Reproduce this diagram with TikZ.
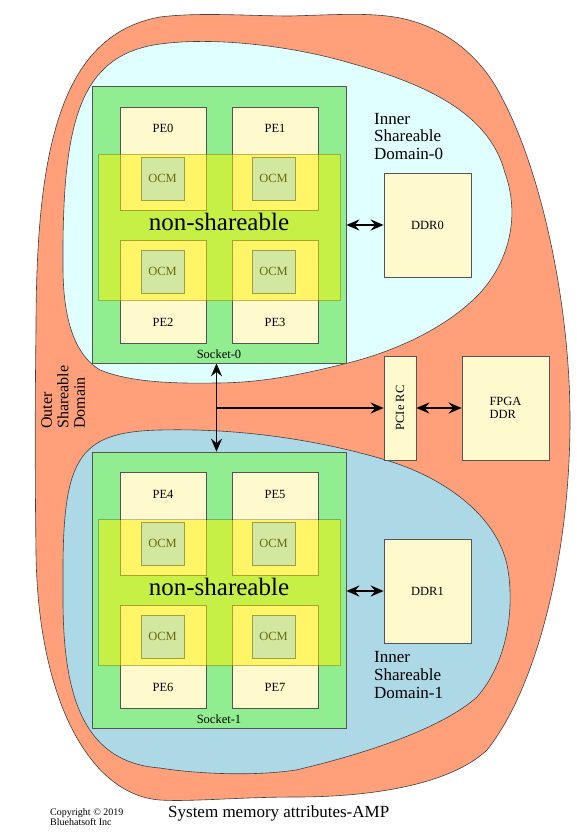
\documentclass[tikz,border=0pt]{standalone}
\usepackage{fontspec}
\setmainfont{Liberation Serif}
\usepackage{graphicx}
\usetikzlibrary{arrows.meta}
\definecolor{salmonc}{HTML}{FFA07A}
\definecolor{cyanc}{HTML}{E0FFFF}
\definecolor{bluec}{HTML}{ADD8E6}
\definecolor{sockc}{HTML}{90EE90}
\definecolor{pec}{HTML}{FFFACD}
\definecolor{ocmf}{HTML}{D2E8A0}
\definecolor{ocmd}{HTML}{A0A040}
\definecolor{ocmt}{HTML}{6B6B10}
\definecolor{edgec}{HTML}{555555}
\newcommand\fntsm{\fontsize{12.5}{12.5}\selectfont}
\newcommand\fntlg{\fontsize{25}{28}\selectfont}
\newcommand\fntmd{\fontsize{17}{17.6}\selectfont}
\newcommand\fntou{\fontsize{16}{16.5}\selectfont}
\newcommand\fntcp{\fontsize{10}{10.8}\selectfont}
\begin{document}
\begin{tikzpicture}[x=1pt,y=-1pt,
  blob/.style={draw=black!75, line width=0.6pt},
  sockbox/.style={draw=edgec, line width=0.7pt, fill=sockc, inner sep=0pt, minimum width=254pt},
  pebox/.style={draw=edgec, line width=0.7pt, fill=pec, minimum width=86pt, minimum height=103pt, inner sep=0pt},
  ocmbox/.style={draw=ocmd, line width=0.7pt, fill=ocmf, minimum width=43pt, minimum height=43pt, inner sep=0pt, text=ocmt, font=\fntsm},
  nsbox/.style={fill=yellow, fill opacity=0.5, draw=black, draw opacity=0.25, line width=0.7pt, minimum width=242pt, minimum height=146pt, inner sep=0pt},
  membox/.style={draw=edgec, line width=0.7pt, fill=pec, inner sep=0pt, font=\fntsm, align=left},
  txt/.style={inner sep=0pt, font=\fntsm},
  tip/.tip={Stealth[length=13pt,width=11pt,inset=4.5pt]},
  darr/.style={line width=1.9pt, tip-tip},
  arr/.style={line width=1.9pt, -tip}
]
\useasboundingbox[fill=white] (0,0) rectangle (577,837);

% outer shareable domain
\draw[blob, fill=salmonc]
  (36,330) .. controls (36,150) and (60,35) .. (160,17)
  .. controls (200,12) and (250,16) .. (290,16)
  .. controls (330,15) and (370,12) .. (400,18)
  .. controls (450,28) and (485,62) .. (503,100)
  .. controls (540,170) and (570,300) .. (570,420)
  .. controls (570,560) and (535,690) .. (487,750)
  .. controls (450,785) and (370,797) .. (296,797)
  .. controls (240,797) and (190,802) .. (160,800)
  .. controls (90,795) and (38,700) .. (36,553)
  .. controls (35,480) and (35,400) .. cycle;
% inner shareable domain 0
\draw[blob, fill=cyanc]
  (63,267) .. controls (62,120) and (80,55) .. (160,44)
  .. controls (220,36) and (300,48) .. (350,63)
  .. controls (430,85) and (490,115) .. (505,173)
  .. controls (520,215) and (510,260) .. (480,293)
  .. controls (450,325) and (400,350) .. (348,363)
  .. controls (300,375) and (260,383) .. (215,383)
  .. controls (160,384) and (125,380) .. (100,370)
  .. controls (75,355) and (63,320) .. cycle;
% inner shareable domain 1
\draw[blob, fill=bluec]
  (63,587) .. controls (62,460) and (75,432) .. (160,430)
  .. controls (240,428) and (320,440) .. (389,461)
  .. controls (450,480) and (500,520) .. (508,570)
  .. controls (515,615) and (505,665) .. (477,697)
  .. controls (440,730) and (360,755) .. (296,770)
  .. controls (250,777) and (190,773) .. (160,768)
  .. controls (75,762) and (62,680) .. cycle;

% socket 0
\node[sockbox, minimum height=277pt] (sock0) at (219,224.5) {};
\node[pebox] (pe0) at (163,158.5) {};
\node[pebox] (pe1) at (275,158.5) {};
\node[pebox] (pe2) at (163,291.5) {};
\node[pebox] (pe3) at (275,291.5) {};
\node[txt, anchor=base] (pe0t) at (163,133) {PE0};
\node[txt, anchor=base] (pe1t) at (275,133) {PE1};
\node[txt, anchor=base] (pe2t) at (163,326) {PE2};
\node[txt, anchor=base] (pe3t) at (275,326) {PE3};
\node[txt, anchor=base] (sock0t) at (219,358) {Socket-0};
\node[nsbox] (ns0) at (219.5,227.5) {};
\node[ocmbox] (ocm0) at (162.5,178.5) {OCM};
\node[ocmbox] (ocm1) at (273.5,178.5) {OCM};
\node[ocmbox] (ocm2) at (162.5,271.5) {OCM};
\node[ocmbox] (ocm3) at (273.5,271.5) {OCM};
\node[inner sep=0pt, font=\fntlg, anchor=base] (ns0t) at (219,230.5) {non-shareable};

% socket 1
\node[sockbox, minimum height=276pt] (sock1) at (219,590) {};
\node[pebox] (pe4) at (163,523.5) {};
\node[pebox] (pe5) at (275,523.5) {};
\node[pebox] (pe6) at (163,656.5) {};
\node[pebox] (pe7) at (275,656.5) {};
\node[txt, anchor=base] (pe4t) at (163,498) {PE4};
\node[txt, anchor=base] (pe5t) at (275,498) {PE5};
\node[txt, anchor=base] (pe6t) at (163,691) {PE6};
\node[txt, anchor=base] (pe7t) at (275,691) {PE7};
\node[txt, anchor=base] (sock1t) at (219,723) {Socket-1};
\node[nsbox] (ns1) at (219.5,592.5) {};
\node[ocmbox] (ocm4) at (162.5,543.5) {OCM};
\node[ocmbox] (ocm5) at (273.5,543.5) {OCM};
\node[ocmbox] (ocm6) at (162.5,636.5) {OCM};
\node[ocmbox] (ocm7) at (273.5,636.5) {OCM};
\node[inner sep=0pt, font=\fntlg, anchor=base] (ns1t) at (219,595.5) {non-shareable};

% memories and PCIe
\node[membox, minimum width=87pt, minimum height=104pt] (ddr0) at (427.5,225) {DDR0};
\node[membox, minimum width=87pt, minimum height=104pt] (ddr1) at (427.5,591) {DDR1};
\node[membox, minimum width=32pt, minimum height=104pt] (pcie) at (400,408) {\rotatebox{90}{PCIe RC}};
\node[membox, minimum width=87pt, minimum height=104pt] (fpga) at (505.5,408) {FPGA\\DDR};

% arrows
\coordinate (jn) at (216.5,408);
\draw[darr] (jn |- sock0.south) -- (jn |- sock1.north);
\draw[arr] (jn) -- (pcie.west);
\draw[darr] (pcie.east) -- (fpga.west);
\draw[darr] (sock0.east |- ddr0.west) -- (ddr0.west);
\draw[darr] (sock1.east |- ddr1.west) -- (ddr1.west);

% domain labels
\node[inner sep=0pt, font=\fntmd, align=left, anchor=north west] (isd0) at (374,113) {Inner\\Shareable\\Domain-0};
\node[inner sep=0pt, font=\fntmd, align=left, anchor=north west] (isd1) at (374,651.5) {Inner\\Shareable\\Domain-1};
\node[inner sep=0pt, font=\fntou, align=left, anchor=north west, rotate=90] (osd) at (41,429) {Outer\\Shareable\\Domain};

% footer
\node[inner sep=0pt, font=\fntcp, align=left, anchor=north west] (copy) at (50,808) {Copyright \textcopyright{} 2019\\Bluehatsoft Inc};
\node[inner sep=0pt, font=\fntmd, anchor=base west] (title) at (168,817) {System memory attributes-AMP};
\end{tikzpicture}
\end{document}
